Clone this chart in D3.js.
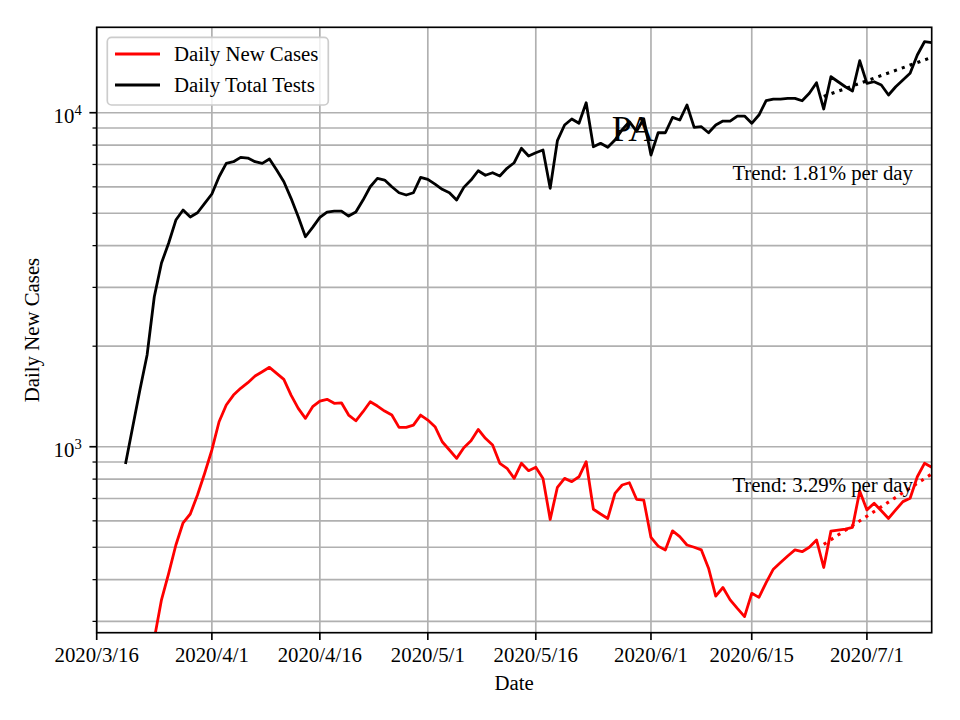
<!DOCTYPE html>
<html><head><meta charset="utf-8">
<script src="https://cdn.jsdelivr.net/npm/d3@7"></script>
<style>
body{margin:0;background:#fff}
text{font-family:"Liberation Serif","Times New Roman",serif;fill:#000}
</style>
</head><body><svg id="c" width="960" height="720"></svg>
<script>
// ---------- data ----------
const testsStart = "2020-03-20";
const dailyTotalTests = [888,1146,1479,1882,2812,3548,4074,4772,5113,4872,5018,5354,5710,6433,7055,7133,7353,7318,7133,7055,
7268,6736,6216,5542,4882,4253,4539,4862,5042,5077,5077,4906,5042,5477,6003,6362,6288,6003,5761,5670,
5761,6406,6318,6116,5898,5761,5477,5978,6288,6704,6496,6614,6465,6816,7084,7824,7420,7590,7733,5939,
8246,9187,9575,9297,10713,7911,8099,7878,8285,8900,9400,8800,9600,7471,8711,8711,9688,9508,10546,9042,
9080,8711,9187,9443,9443,9775,9775,9297,9843,10862,10990,10990,11043,11043,10862,11432,12295,10259,12816,12381,
11961,11614,14311,12246,12381,12102,11297,11961,12526,13122,14886,16315,16203];
const casesStart = "2020-03-24";
const dailyNewCases = [266,348,418,508,592,629,717,833,978,1188,1333,1428,1496,1555,1628,1677,1729,1659,1591,1428,
1303,1216,1318,1370,1387,1349,1354,1244,1196,1273,1364,1324,1279,1244,1143,1143,1161,1244,1202,1148,
1035,978,923,993,1042,1127,1060,1012,892,862,804,892,848,868,804,606,756,804,786,813,
902,650,629,610,725,768,780,696,692,535,504,491,560,538,508,500,491,433,357,379,
348,328,310,364,354,392,430,450,471,491,485,500,526,435,559,563,567,574,737,647,
677,643,610,647,685,701,813,892,868];
const seriesNames = ["Daily New Cases","Daily Total Tests"];
const seriesColors = ["#ff0000","#000000"];
const xTickDates = ["2020-03-16","2020-04-01","2020-04-16","2020-05-01","2020-05-16","2020-06-01","2020-06-15","2020-07-01"];
const xTickLabels = ["2020/3/16","2020/4/1","2020/4/16","2020/5/1","2020/5/16","2020/6/1","2020/6/15","2020/7/1"];
const yMajorTicks = [1000,10000];
const yMajorExp = ["3","4"];
const yMinorTicks = [300,400,500,600,700,800,900,2000,3000,4000,5000,6000,7000,8000,9000];
const xDomain = ["2020-03-16","2020-07-10"];
const yDomain = [277.5,18020];
const trendStart = "2020-06-25";
const trendEnd = "2020-07-10";
const trendRates = [0.0181,0.0329];          // tests, cases
const trendEndValues = [14650,829];
const trendLabels = ["Trend: 1.81% per day","Trend: 3.29% per day"];
const titleText = "PA";
const xLabel = "Date", yLabel = "Daily New Cases";

// ---------- layout ----------
const W = 960, H = 720;
const m = {l:96.7, t:27.3, r:960-931.7, b:720-632.7};
const pw = W - m.l - m.r, ph = H - m.t - m.b;
const parse = d3.timeParse("%Y-%m-%d");
const svg = d3.select("#c");
const g = svg.append("g").attr("transform",`translate(${m.l},${m.t})`);

const x = d3.scaleTime().domain(xDomain.map(parse)).range([0,pw]);
const y = d3.scaleLog().domain(yDomain).range([ph,0]);

svg.append("defs").append("clipPath").attr("id","clip")
  .append("rect").attr("width",pw).attr("height",ph);

// grid
const gridCol = "#b0b0b0", gw = 1.67;
g.append("g").selectAll("line").data(xTickDates.map(parse)).join("line")
  .attr("x1",d=>x(d)).attr("x2",d=>x(d)).attr("y1",0).attr("y2",ph)
  .attr("stroke",gridCol).attr("stroke-width",gw);
g.append("g").selectAll("line").data(yMajorTicks.concat(yMinorTicks)).join("line")
  .attr("x1",0).attr("x2",pw).attr("y1",d=>y(d)).attr("y2",d=>y(d))
  .attr("stroke",gridCol).attr("stroke-width",gw);

// series
const mk = (start, vals) => vals.map((v,i)=>({d:d3.timeDay.offset(parse(start),i), v}));
const cases = mk(casesStart, dailyNewCases);
const tests = mk(testsStart, dailyTotalTests);
const line = d3.line().x(p=>x(p.d)).y(p=>y(p.v));
const plot = g.append("g").attr("clip-path","url(#clip)");
plot.append("path").datum(cases).attr("d",line).attr("fill","none")
  .attr("stroke",seriesColors[0]).attr("stroke-width",2.8).attr("stroke-linejoin","round");
plot.append("path").datum(tests).attr("d",line).attr("fill","none")
  .attr("stroke",seriesColors[1]).attr("stroke-width",2.8).attr("stroke-linejoin","round");

// trends
const tS = parse(trendStart), tE = parse(trendEnd);
const nDays = d3.timeDay.count(tS,tE);
[1,0].forEach((si,k)=>{
  const ti = si===1?0:1; // tests->0 cases->1
  const r = trendRates[ti], ev = trendEndValues[ti];
  const pts = [{d:tS, v: ev/Math.pow(1+r,nDays)},{d:tE, v:ev}];
  plot.append("path").datum(pts).attr("d",line).attr("fill","none")
    .attr("stroke",seriesColors[si]).attr("stroke-width",3.1)
    .attr("stroke-dasharray","3.1,5.2");
});

// texts
g.append("text").attr("x",913-m.l).attr("y",180-m.t).attr("text-anchor","end")
  .attr("font-size",20.8).text(trendLabels[0]);
g.append("text").attr("x",913-m.l).attr("y",492-m.t).attr("text-anchor","end")
  .attr("font-size",20.8).text(trendLabels[1]);
g.append("text").attr("x",633-m.l).attr("y",141-m.t).attr("text-anchor","middle")
  .attr("font-size",36).text(titleText);

// spines
g.append("rect").attr("width",pw).attr("height",ph).attr("fill","none")
  .attr("stroke","#000").attr("stroke-width",1.67);

// x ticks
const xt = g.append("g").attr("transform",`translate(0,${ph})`);
xTickDates.forEach((s,i)=>{
  const xx = x(parse(s));
  xt.append("line").attr("x1",xx).attr("x2",xx).attr("y1",0).attr("y2",7.3)
    .attr("stroke","#000").attr("stroke-width",1.67);
  xt.append("text").attr("x",xx).attr("y",662-632.7).attr("text-anchor","middle")
    .attr("font-size",20.8).text(xTickLabels[i]);
});
// y ticks
yMajorTicks.forEach((v,i)=>{
  g.append("line").attr("x1",-7.3).attr("x2",0).attr("y1",y(v)).attr("y2",y(v))
    .attr("stroke","#000").attr("stroke-width",1.67);
  const t = g.append("text").attr("x",-15).attr("y",y(v)+10).attr("text-anchor","end")
    .attr("font-size",20.8);
  t.append("tspan").text("10");
  t.append("tspan").attr("dy",-8).attr("font-size",14.6).text(yMajorExp[i]);
});
yMinorTicks.forEach(v=>{
  g.append("line").attr("x1",-4.2).attr("x2",0).attr("y1",y(v)).attr("y2",y(v))
    .attr("stroke","#000").attr("stroke-width",1.25);
});

// axis labels
svg.append("text").attr("x",m.l+pw/2).attr("y",690).attr("text-anchor","middle")
  .attr("font-size",20.8).text(xLabel);
svg.append("text").attr("transform",`translate(39,${m.t+ph/2}) rotate(-90)`)
  .attr("text-anchor","middle").attr("font-size",20.8).text(yLabel);

// legend
const lg = svg.append("g");
lg.append("rect").attr("x",107.3).attr("y",37.3).attr("width",221).attr("height",67.7)
  .attr("rx",4.2).attr("fill","#fff").attr("fill-opacity",0.8)
  .attr("stroke","#cccccc").attr("stroke-width",1.67);
[[0,54],[1,85]].forEach(([si,yy])=>{
  lg.append("line").attr("x1",115).attr("x2",160).attr("y1",yy).attr("y2",yy)
    .attr("stroke",seriesColors[si]).attr("stroke-width",2.8);
  lg.append("text").attr("x",174).attr("y",yy+7).attr("font-size",20.8).text(seriesNames[si]);
});
</script>
</body></html>
